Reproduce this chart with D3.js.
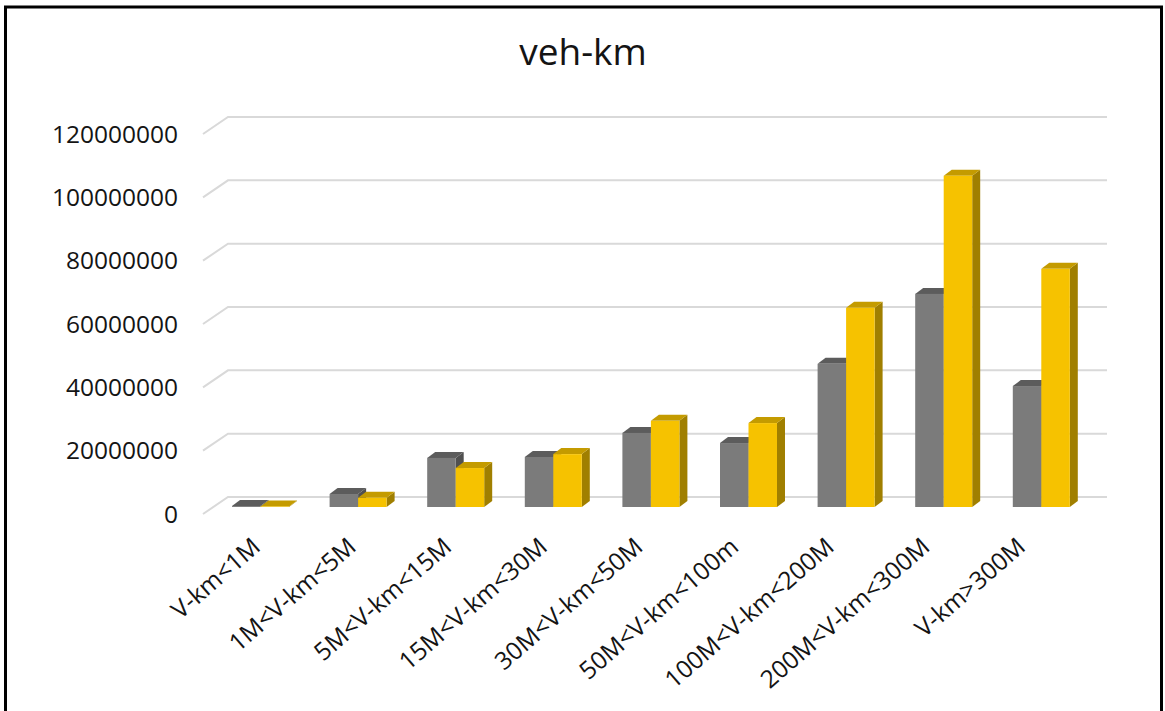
<!DOCTYPE html>
<html>
<head>
<meta charset="utf-8">
<script src="https://cdn.jsdelivr.net/npm/d3@7"></script>
<style>
  html, body { margin: 0; padding: 0; background: #fff; }
  svg { display: block; }
</style>
</head>
<body>
<svg id="chart" width="1165" height="711"></svg>
<script>
const categories = ["V-km<1M", "1M<V-km<5M", "5M<V-km<15M", "15M<V-km<30M", "30M<V-km<50M",
                    "50M<V-km<100m", "100M<V-km<200M", "200M<V-km<300M", "V-km>300M"];
const seriesNames = ["Series1", "Series2"];
const series1 = [300000, 4100000, 15500000, 15800000, 23400000, 20200000, 45200000, 67300000, 38200000];
const series2 = [150000, 2900000, 12300000, 16700000, 27200000, 26500000, 62900000, 104600000, 75200000];
const yTicks = [0, 20000000, 40000000, 60000000, 80000000, 100000000, 120000000];
const title = "veh-km";

const svg = d3.select("#chart");

// frame
svg.append("rect").attr("x", 5.5).attr("y", 7).attr("width", 1156).attr("height", 730)
  .attr("fill", "#fff").attr("stroke", "#000").attr("stroke-width", 3);

// scales
const x0 = d3.scaleBand().domain(categories).range([211.7, 1090.1]).paddingInner(0.416).paddingOuter(0.208);
const x1 = d3.scaleBand().domain(seriesNames).range([0, x0.bandwidth()]);
const y = d3.scaleLinear().domain([0, 120000000]).range([507, 127]);
const xLabel = d3.scalePoint().domain(categories).range([262, 1027]);

// 3D geometry
const wallBack = -10;
const floorDx = 25, floorDy = 17;
const gridX0 = 228, gridX1 = 1107;
const barDx = 8, barDy = -6;

// gridlines on back wall + left wall
const grid = svg.append("g");
yTicks.forEach(t => {
  const yb = y(t) + wallBack;
  grid.append("path")
    .attr("d", `M${gridX0 - floorDx},${yb + floorDy} L${gridX0},${yb} L${gridX1},${yb}`)
    .attr("fill", "none").attr("stroke", "#d9d9d9").attr("stroke-width", 2);
});

// y axis labels
const yAxisG = svg.append("g");
yTicks.forEach(t => {
  yAxisG.append("text")
    .attr("x", 178).attr("y", y(t) + wallBack + floorDy)
    .attr("dy", "0.36em")
    .attr("text-anchor", "end")
    .attr("font-family", "'Open Sans', sans-serif")
    .attr("font-size", 24.5)
    .attr("fill", "#141414")
    .text(d3.format("d")(t));
});

// bars
const colors = [
  { front: "#7b7b7b", top: "#5c5c5c", side: "#505050" },
  { front: "#f6c200", top: "#c49b00", side: "#a07f00" }
];
const data = [series1, series2];
const barsG = svg.append("g");
categories.forEach((c, i) => {
  seriesNames.forEach((s, k) => {
    const v = data[k][i];
    const xl = x0(c) + x1(s);
    const w = x1.bandwidth();
    const yt = y(v), yb = y(0);
    const col = colors[k];
    const g = barsG.append("g");
    g.append("path")
      .attr("d", `M${xl + w},${yb} L${xl + w + barDx},${yb + barDy} L${xl + w + barDx},${yt + barDy} L${xl + w},${yt} Z`)
      .attr("fill", col.side);
    g.append("path")
      .attr("d", `M${xl},${yt} L${xl + barDx},${yt + barDy} L${xl + w + barDx},${yt + barDy} L${xl + w},${yt} Z`)
      .attr("fill", col.top);
    g.append("rect")
      .attr("x", xl).attr("y", yt).attr("width", w).attr("height", Math.max(0, yb - yt))
      .attr("fill", col.front);
  });
});

// x labels
const xAxisG = svg.append("g");
categories.forEach(c => {
  xAxisG.append("text")
    .attr("transform", `translate(${xLabel(c)},549) rotate(-41)`)
    .attr("text-anchor", "end")
    .attr("font-family", "'Open Sans', sans-serif")
    .attr("font-size", 24.5)
    .attr("fill", "#141414")
    .text(c);
});

// title
svg.append("text")
  .attr("x", 583).attr("y", 65)
  .attr("text-anchor", "middle")
  .attr("font-family", "'Open Sans', sans-serif")
  .attr("font-size", 37)
  .attr("fill", "#141414")
  .text(title);
</script>
</body>
</html>
